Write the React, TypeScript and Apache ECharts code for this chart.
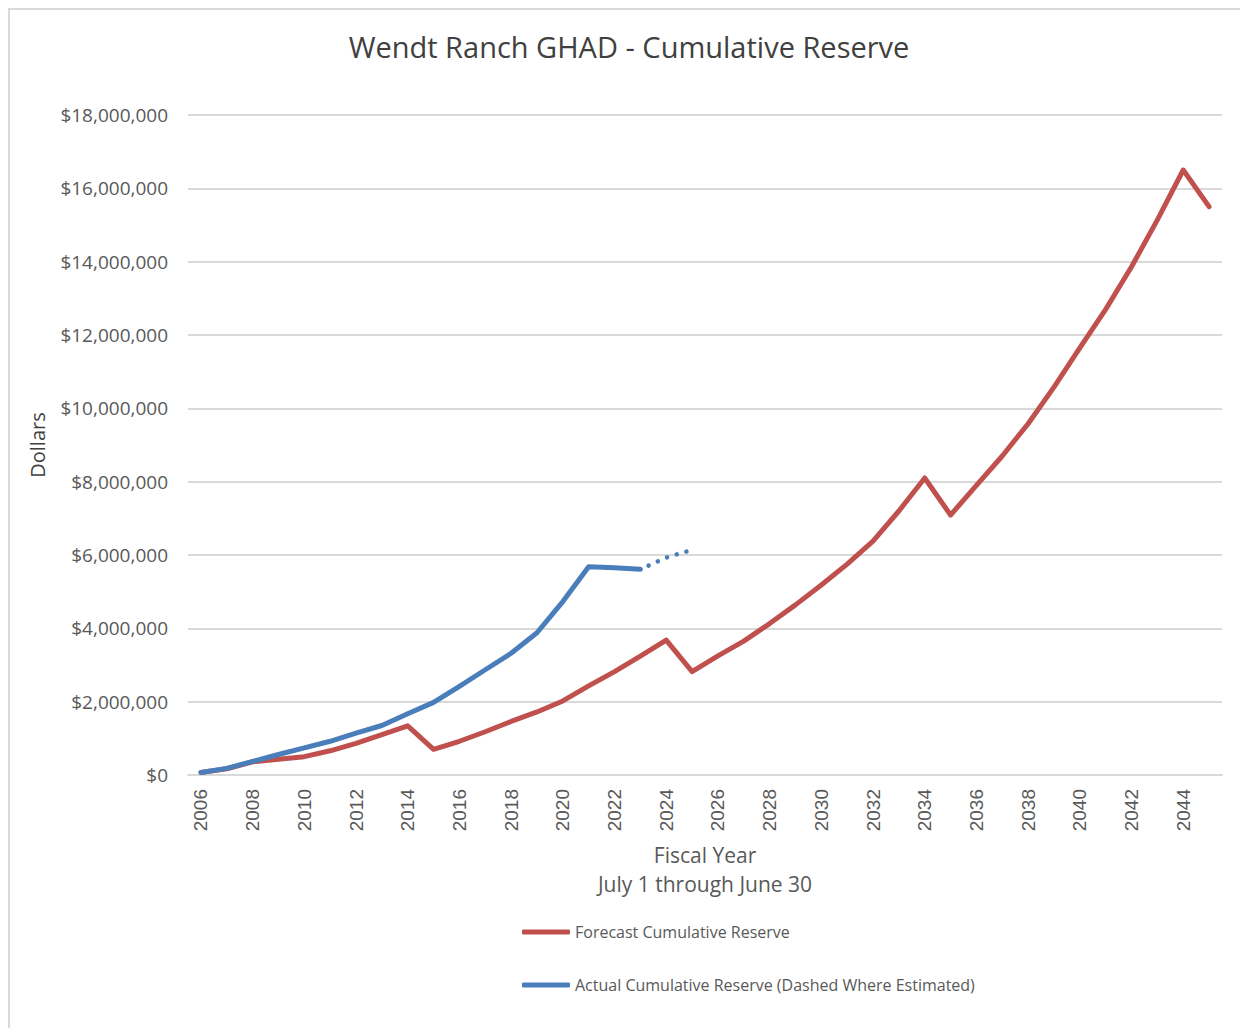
import React, { useEffect, useRef } from "react";
import * as echarts from "echarts";

const years: string[] = [
  "2006","2007","2008","2009","2010","2011","2012","2013","2014","2015",
  "2016","2017","2018","2019","2020","2021","2022","2023","2024","2025",
  "2026","2027","2028","2029","2030","2031","2032","2033","2034","2035",
  "2036","2037","2038","2039","2040","2041","2042","2043","2044","2045",
];

// Forecast cumulative reserve (dollars)
const forecast: number[] = [
  70000, 170000, 360000, 430000, 500000, 660000, 860000, 1100000, 1340000, 700000,
  920000, 1180000, 1460000, 1720000, 2020000, 2430000, 2820000, 3240000, 3680000, 2820000,
  3250000, 3650000, 4130000, 4640000, 5180000, 5750000, 6380000, 7200000, 8100000, 7090000,
  7900000, 8700000, 9580000, 10580000, 11650000, 12700000, 13860000, 15140000, 16500000, 15500000,
];

// Actual cumulative reserve (solid part, 2006-2023)
const actual: (number | null)[] = [
  70000, 180000, 370000, 560000, 740000, 920000, 1140000, 1350000, 1670000, 1980000,
  2420000, 2870000, 3320000, 3880000, 4730000, 5680000, 5650000, 5610000,
];

// Estimated part (dotted, 2023-2025)
const estimated: { year: string; value: number }[] = [
  { year: "2023", value: 5610000 },
  { year: "2024", value: 5930000 },
  { year: "2025", value: 6140000 },
];

const yTicks = { min: 0, max: 18000000, interval: 2000000 };

const RED = "#C0504D";
const BLUE = "#4A7EBB";
const GRAY_TEXT = "#595959";
const FONT = "'Open Sans', 'Noto Sans', sans-serif";

export default function App() {
  const ref = useRef<HTMLDivElement>(null);

  useEffect(() => {
    if (!ref.current) return;
    document.body.style.overflow = "hidden";
    const chart = echarts.init(ref.current, undefined, { renderer: "svg" });

    const actualData = years.map((_, i) => (i < actual.length ? actual[i] : null));
    const estData = years.map((y) => {
      const e = estimated.find((d) => d.year === y);
      return e ? e.value : null;
    });

    const fmt = (v: number) => "$" + v.toLocaleString("en-US");

    chart.setOption({
      animation: false,
      backgroundColor: "#ffffff",
      title: {
        text: "Wendt Ranch GHAD - Cumulative Reserve",
        left: "center",
        top: 17,
        textStyle: {
          fontFamily: FONT,
          fontSize: 29,
          fontWeight: "normal",
          color: "#404040",
        },
      },
      legend: {
        orient: "vertical",
        left: 507,
        top: 909,
        itemGap: 37,
        itemWidth: 48,
        itemHeight: 5,
        icon: "roundRect",
        data: [
          { name: "Forecast Cumulative Reserve", itemStyle: { color: RED } },
          { name: "Actual Cumulative Reserve (Dashed Where Estimated)", itemStyle: { color: BLUE } },
        ],
        textStyle: { fontFamily: FONT, fontSize: 16, color: GRAY_TEXT },
      },
      grid: {
        left: 178,
        right: 26,
        top: 105,
        bottom: 253,
        containLabel: false,
      },
      xAxis: {
        type: "category",
        data: years,
        boundaryGap: true,
        name: "Fiscal Year\nJuly 1 through June 30",
        nameLocation: "middle",
        nameGap: 65,
        nameTextStyle: {
          fontFamily: FONT,
          fontSize: 21,
          color: GRAY_TEXT,
          lineHeight: 29,
        },
        axisLine: { show: true, lineStyle: { color: "#d9d9d9", width: 2 } },
        axisTick: { show: false },
        axisLabel: {
          interval: 1,
          rotate: 90,
          margin: 14,
          fontFamily: "'Liberation Sans', Arial, sans-serif",
          fontSize: 19,
          color: GRAY_TEXT,
        },
        splitLine: { show: false },
      },
      yAxis: {
        type: "value",
        min: yTicks.min,
        max: yTicks.max,
        interval: yTicks.interval,
        name: "Dollars",
        nameLocation: "middle",
        nameGap: 141,
        nameTextStyle: { fontFamily: FONT, fontSize: 20, color: "#404040" },
        axisLine: { show: false },
        axisTick: { show: false },
        axisLabel: {
          formatter: (v: number) => fmt(v),
          fontFamily: FONT,
          fontSize: 19,
          color: GRAY_TEXT,
          margin: 20,
        },
        splitLine: { show: true, lineStyle: { color: "#d9d9d9", width: 2 } },
      },
      series: [
        {
          name: "Forecast Cumulative Reserve",
          type: "line",
          data: forecast,
          showSymbol: false,
          symbol: "none",
          lineStyle: { color: RED, width: 5, cap: "round", join: "round" },
          itemStyle: { color: RED },
          z: 2,
        },
        {
          name: "Actual Cumulative Reserve (Dashed Where Estimated)",
          type: "line",
          data: actualData,
          showSymbol: false,
          symbol: "none",
          lineStyle: { color: BLUE, width: 5, cap: "round", join: "round" },
          itemStyle: { color: BLUE },
          z: 3,
        },
        {
          name: "Actual (estimated)",
          type: "line",
          data: estData,
          showSymbol: false,
          symbol: "none",
          lineStyle: { color: BLUE, width: 4.5, type: [0.1, 10], cap: "round", dashOffset: -9 },
          itemStyle: { color: BLUE },
          z: 3,
        },
      ],
    });

    return () => chart.dispose();
  }, []);

  return (
    <div
      ref={ref}
      style={{
        width: 1238,
        height: 1018,
        borderTop: "2px solid #d9d9d9",
        borderLeft: "2px solid #d9d9d9",
        boxSizing: "content-box",
      }}
    />
  );
}
